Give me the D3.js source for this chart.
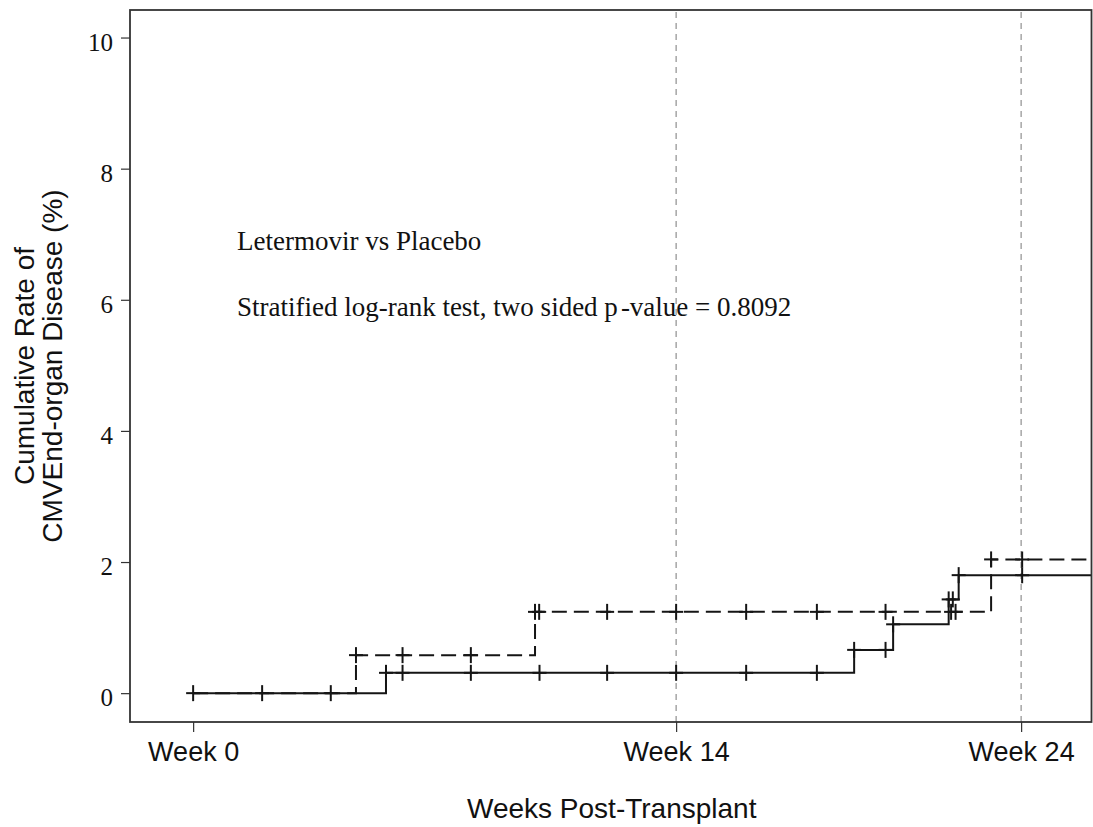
<!DOCTYPE html>
<html>
<head>
<meta charset="utf-8">
<script src="https://cdn.jsdelivr.net/npm/d3@7"></script>
<style>
  body { margin: 0; background: #fff; }
  svg { display: block; }
</style>
</head>
<body>
<div id="chart"></div>
<script>
// weeks post-transplant at which each curve steps up, and the level after the step (%)
const solidStepWeeks = [0, 5.59, 19.16, 20.29, 21.90, 22.19];
const solidStepRates = [0, 0.31, 0.66, 1.05, 1.43, 1.80];
const dashedStepWeeks = [0, 4.72, 9.91, 23.13];
const dashedStepRates = [0, 0.58, 1.24, 2.04];

// censor marks (weeks)
const solidCensorWeeks = [0, 2.0, 3.99, 5.59, 6.07, 8.05, 10.04, 12.0, 14.0, 16.03, 18.08,
  19.16, 20.07, 20.29, 21.90, 22.02, 22.19, 24.03];
const dashedCensorWeeks = [4.72, 6.07, 8.05, 9.91, 10.03, 12.0, 14.0, 16.03, 18.08, 20.07,
  21.97, 22.10, 23.13, 24.03];

const xTickWeeks = [0, 14, 24];
const xTickLabels = ["Week 0", "Week 14", "Week 24"];
const refLineWeeks = [14, 24];
const yTicks = [0, 2, 4, 6, 8, 10];
const endWeek = 26.2;

const width = 1093, height = 827;
const box = { left: 130, right: 1091.5, top: 10, bottom: 722 };

const svg = d3.select("#chart").append("svg")
  .attr("width", width)
  .attr("height", height);

const x = d3.scaleLinear().domain([-1.83, 26.04]).range([box.left, box.right]);
const y = d3.scaleLinear().domain([-0.44, 10.42]).range([box.bottom, box.top]);

svg.append("clipPath").attr("id", "plotclip")
  .append("rect")
  .attr("x", box.left).attr("y", box.top)
  .attr("width", box.right - box.left).attr("height", box.bottom - box.top);

// reference lines at week 14 / 24
svg.append("g")
  .selectAll("line")
  .data(refLineWeeks)
  .enter().append("line")
  .attr("x1", d => x(d)).attr("x2", d => x(d))
  .attr("y1", box.top + 2).attr("y2", box.bottom)
  .attr("stroke", "#8f8f8f")
  .attr("stroke-width", 1.2)
  .attr("stroke-dasharray", "6,5");

function stepLevel(weeks, rates, t) {
  let v = rates[0];
  for (let i = 0; i < weeks.length; i++) if (weeks[i] <= t) v = rates[i];
  return v;
}

const line = d3.line()
  .x(d => x(d[0]))
  .y(d => y(d[1]))
  .curve(d3.curveStepAfter);

const curves = [
  { weeks: dashedStepWeeks, rates: dashedStepRates, censor: dashedCensorWeeks, dash: "15,7" },
  { weeks: solidStepWeeks, rates: solidStepRates, censor: solidCensorWeeks, dash: null }
];

const plot = svg.append("g").attr("clip-path", "url(#plotclip)");

curves.forEach(c => {
  const pts = c.weeks.map((w, i) => [w, c.rates[i]]);
  pts.push([endWeek, c.rates[c.rates.length - 1]]);

  plot.append("path")
    .datum(pts)
    .attr("d", line)
    .attr("fill", "none")
    .attr("stroke", "#151515")
    .attr("stroke-width", 2)
    .attr("stroke-dasharray", c.dash);

  const marks = plot.append("g")
    .selectAll("g")
    .data(c.censor)
    .enter().append("g")
    .attr("transform", d => `translate(${x(d)},${y(stepLevel(c.weeks, c.rates, d))})`);

  marks.append("line")
    .attr("x1", 0).attr("x2", 0).attr("y1", -8).attr("y2", 8)
    .attr("stroke", "#151515").attr("stroke-width", 2);
  marks.append("line")
    .attr("x1", -7).attr("x2", 7).attr("y1", 0).attr("y2", 0)
    .attr("stroke", "#151515").attr("stroke-width", 2);
});

// box
svg.append("rect")
  .attr("x", box.left).attr("y", box.top)
  .attr("width", box.right - box.left).attr("height", box.bottom - box.top)
  .attr("fill", "none")
  .attr("stroke", "#333")
  .attr("stroke-width", 1.8);

// y axis
const yAxis = svg.append("g")
  .attr("transform", `translate(${box.left},0)`)
  .call(d3.axisLeft(y).tickValues(yTicks).tickSize(9).tickPadding(8).tickFormat(d3.format("d")));
yAxis.select(".domain").remove();
yAxis.selectAll("line").attr("stroke", "#333").attr("stroke-width", 1.2);
yAxis.selectAll("text")
  .attr("font-family", "'Liberation Serif', 'Times New Roman', serif")
  .attr("font-size", 25)
  .attr("fill", "#111")
  .attr("dy", "0.5em");

// x axis
const xAxis = svg.append("g")
  .attr("transform", `translate(0,${box.bottom})`)
  .call(d3.axisBottom(x).tickValues(xTickWeeks).tickSize(10).tickPadding(10)
    .tickFormat((d, i) => xTickLabels[i]));
xAxis.select(".domain").remove();
xAxis.selectAll("line").attr("stroke", "#333").attr("stroke-width", 1.2);
xAxis.selectAll("text")
  .attr("font-family", "'Liberation Sans', Arial, sans-serif")
  .attr("font-size", 27)
  .attr("fill", "#111");

// axis titles
svg.append("text")
  .attr("x", (box.left + box.right) / 2 + 1)
  .attr("y", 818)
  .attr("text-anchor", "middle")
  .attr("font-family", "'Liberation Sans', Arial, sans-serif")
  .attr("font-size", 28)
  .attr("fill", "#111")
  .text("Weeks Post-Transplant");

const yTitle = svg.append("text")
  .attr("transform", `translate(0,${(box.top + box.bottom) / 2}) rotate(-90)`)
  .attr("text-anchor", "middle")
  .attr("font-family", "'Liberation Sans', Arial, sans-serif")
  .attr("font-size", 28)
  .attr("fill", "#111");
yTitle.append("tspan").attr("x", 0).attr("y", 34).text("Cumulative Rate of");
yTitle.append("tspan").attr("x", 0).attr("y", 62).text("CMVEnd-organ Disease (%)");

// annotation
const note = svg.append("g")
  .attr("font-family", "'Liberation Serif', 'Times New Roman', serif")
  .attr("font-size", 27)
  .attr("fill", "#111");
note.append("text").attr("x", x(1.27)).attr("y", y(7) + 16).text("Letermovir vs Placebo");
const pLine = note.append("text").attr("x", x(1.27)).attr("y", y(6) + 16);
pLine.append("tspan").text("Stratified log-rank test, two sided p");
pLine.append("tspan").attr("dx", 3).text("-value = 0.8092");
</script>
</body>
</html>
